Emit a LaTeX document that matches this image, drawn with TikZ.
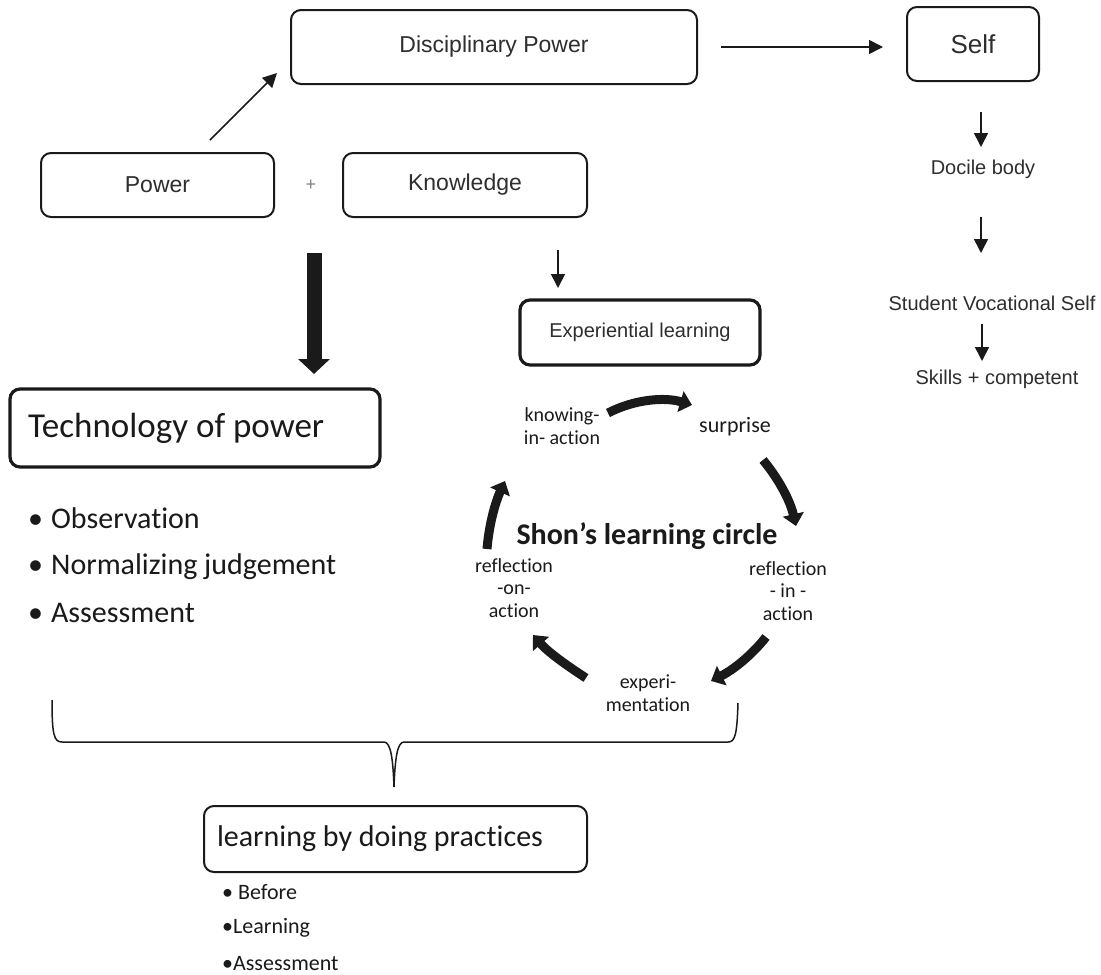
\documentclass[tikz,border=0pt]{standalone}
\usepackage{fontspec}
\setmainfont{Liberation Sans}
\newfontfamily\calfont[Ligatures=NoCommon,RawFeature={-liga;-dlig;-clig},WordSpace={1,0,0}]{Carlito}
\usetikzlibrary{arrows.meta}
\definecolor{ink}{HTML}{1A1A1A}
\definecolor{soft}{HTML}{2E2E2E}
\begin{document}
\begin{tikzpicture}[x=1pt,y=-1pt,
  box/.style={draw=ink,line width=2pt,rounded corners=10pt,inner sep=0pt,text=soft},
  thickbox/.style={draw=ink,line width=3.2pt,rounded corners=10pt,inner sep=0pt,text=ink},
  helv/.style={font=\fontsize{23}{27}\selectfont},
  helvs/.style={font=\fontsize{20}{24}\selectfont,text=soft},
  thin/.style={draw=ink,line width=1.6pt,-{Triangle[width=14pt,length=14pt]}},
  cyc/.style={draw=ink,line width=9pt,-{Triangle[width=21pt,length=12pt]}},
  clab/.style={font=\calfont\fontsize{20}{22.5}\selectfont,align=center,text=ink,inner sep=0pt},
  blist/.style={font=\calfont\fontsize{30}{48}\selectfont,anchor=west,text=ink,inner sep=0pt},
  slist/.style={font=\calfont\fontsize{22}{25}\selectfont,anchor=west,text=ink,inner sep=0pt}
]
\useasboundingbox (0,0) rectangle (1101,975);
\fill[white] (0,0) rectangle (1101,975);

% top row
\node[box,helv,minimum width=406pt,minimum height=74pt] (dp) at (494,47) {Disciplinary Power};
\node[box,font=\fontsize{26}{30}\selectfont,minimum width=132pt,minimum height=74pt] (self) at (973,44) {Self};
\node[box,helv,minimum width=233pt,minimum height=64pt] (power) at (157.5,185) {Power};
\node[box,helv,minimum width=244pt,minimum height=64pt] (know) at (465,185) {Knowledge};
\node[font=\fontsize{18}{20}\selectfont,text=gray,inner sep=0pt] (plus) at (311,185) {+};

\coordinate (pw1) at (210,140);
\coordinate (pw2) at (277,73);
\draw[thin] (pw1) -- (pw2);
\coordinate (dps) at (721,47);
\coordinate (dpe) at (883,47);
\draw[thin] (dps) -- (dpe);

% right column
\node[helvs,inner sep=0pt] (docile) at (983,169) {Docile body};
\node[helvs,inner sep=0pt] (svs) at (992,303) {Student Vocational Self};
\node[helvs,inner sep=0pt] (skills) at (997,379) {Skills + competent};
\coordinate (r1a) at (981,112); \coordinate (r1b) at (981,147);
\coordinate (r2a) at (981,217); \coordinate (r2b) at (981,253);
\coordinate (r3a) at (982,324); \coordinate (r3b) at (982,361);
\draw[thin] (r1a) -- (r1b);
\draw[thin] (r2a) -- (r2b);
\draw[thin] (r3a) -- (r3b);

% experiential learning
\node[thickbox,font=\fontsize{20}{24}\selectfont,text=soft,minimum width=240pt,minimum height=65pt] (exp) at (640,332.5) {Experiential learning};
\coordinate (ka) at (558,250); \coordinate (kb) at (558,288);
\draw[thin] (ka) -- (kb);

% technology of power
\coordinate (ba) at (314,253); \coordinate (bb) at (314,374);
\draw[draw=ink,line width=15pt,-{Triangle[width=31pt,length=15pt]}] (ba) -- (bb);
\node[thickbox,font=\calfont\fontsize{35}{40}\selectfont,text width=334pt,align=flush left,inner xsep=18pt,minimum height=78pt] (tech) at (195,428) {Technology of power};
\node[blist] (b1) at (28,518) {\textbullet\hspace{8pt}Observation};
\node[blist] (b2) at (28,567) {\textbullet\hspace{8pt}Normalizing judgement};
\node[blist] (b3) at (28,613) {\textbullet\hspace{8pt}Assessment};

% Schon circle
\node[clab] (kia) at (562,426) {knowing-\\in- action};
\node[clab,font=\calfont\fontsize{22}{24}\selectfont] (sur) at (735,427) {surprise};
\node[clab,font=\calfont\bfseries\fontsize{30}{32}\selectfont] (title) at (647,536) {Shon’s learning circle};
\node[clab] (roa) at (514,588) {reflection\\-on-\\action};
\node[clab] (ria) at (788,591) {reflection\\- in -\\action};
\node[clab] (expm) at (648,693) {experi-\\mentation};

\coordinate (c1a) at (608,413); \coordinate (c1b) at (692,405);
\coordinate (c2a) at (763,460); \coordinate (c2b) at (796,526);
\coordinate (c3a) at (766,637); \coordinate (c3b) at (711,681);
\coordinate (c4a) at (586,678); \coordinate (c4b) at (533,635);
\coordinate (c5a) at (487,549); \coordinate (c5b) at (505,481);
\draw[cyc] (c1a) .. controls (635,399) and (665,397) .. (c1b);
\draw[cyc] (c2a) .. controls (778,478) and (790,500) .. (c2b);
\draw[cyc] (c3a) .. controls (752,655) and (733,670) .. (c3b);
\draw[cyc] (c4a) .. controls (566,665) and (548,652) .. (c4b);
\draw[cyc] (c5a) .. controls (489,525) and (495,503) .. (c5b);

% brace
\draw[draw=ink,line width=1.5pt] (52,700) .. controls (52,735) and (54,742) .. (62,742)
  -- (384,742) .. controls (391,742) and (393,760) .. (394,787)
  .. controls (395,760) and (397,742) .. (404,742)
  -- (728,742) .. controls (735,742) and (737,735) .. (738,703);

% learning by doing
\node[box,text=ink,line width=2pt,font=\calfont\fontsize{30}{36}\selectfont,text width=357pt,align=flush left,inner xsep=13pt,minimum height=66pt] (lbd) at (395.5,839) {learning by doing practices};
\node[slist] (l1) at (222,892) {\textbullet\hspace{5pt}Before};
\node[slist] (l2) at (222,928) {\textbullet Learning};
\node[slist] (l3) at (222,964) {\textbullet Assessment};
\end{tikzpicture}
\end{document}
